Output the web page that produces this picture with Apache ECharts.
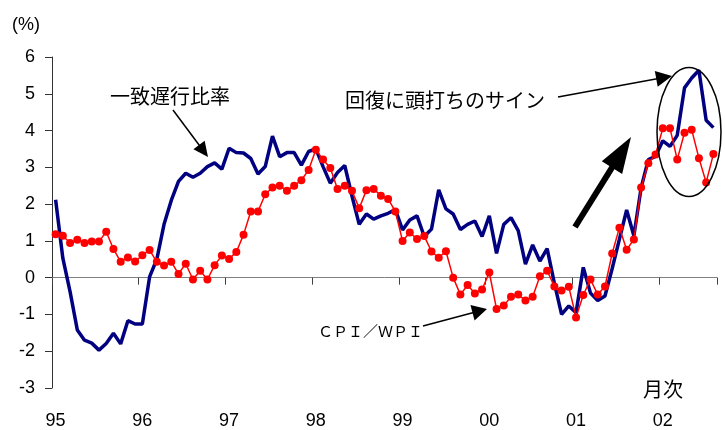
<!DOCTYPE html>
<html>
<head>
<meta charset="utf-8">
<script src="https://cdn.jsdelivr.net/npm/echarts@6/dist/echarts.min.js"></script>
<style>
  html, body { margin: 0; padding: 0; background: #fff; }
  #chart { width: 725px; height: 430px; }
</style>
</head>
<body>
<div id="chart"></div>
<script>
// 年ラベル（各年の1月に表示）
const years = ['95', '96', '97', '98', '99', '00', '01', '02'];
const monthCount = 92; // 95/1 - 02/8

// 一致遅行比率
const ratio = [
  2.12, 0.53, -0.38, -1.42, -1.7, -1.78, -1.97, -1.79, -1.51, -1.8,
  -1.17, -1.26, -1.26, 0.02, 0.5, 1.45, 2.1, 2.62, 2.84, 2.73,
  2.84, 3.02, 3.12, 2.95, 3.52, 3.4, 3.39, 3.24, 2.82, 3.02,
  3.85, 3.29, 3.4, 3.4, 3.06, 3.43, 3.5, 3.02, 2.57, 2.86,
  3.05, 2.22, 1.45, 1.73, 1.59, 1.68, 1.75, 1.85, 1.3, 1.57,
  1.68, 1.12, 1.32, 2.39, 1.87, 1.73, 1.31, 1.45, 1.54, 1.12,
  1.68, 0.66, 1.45, 1.63, 1.28, 0.37, 0.89, 0.45, 0.79, -0.15,
  -1.0, -0.77, -0.95, 0.28, -0.42, -0.62, -0.5, 0.25, 1.05, 1.84,
  1.14, 2.44, 3.21, 3.3, 3.72, 3.57, 3.87, 5.16, 5.43, 5.64,
  4.28, 4.08
];

// CPI/WPI
const cpiWpi = [
  1.18, 1.14, 0.94, 1.03, 0.94, 0.98, 0.98, 1.25, 0.78, 0.43,
  0.55, 0.44, 0.61, 0.75, 0.43, 0.33, 0.43, 0.10, 0.38, -0.05,
  0.19, -0.05, 0.34, 0.60, 0.51, 0.70, 1.17, 1.80, 1.80, 2.27,
  2.45, 2.50, 2.36, 2.50, 2.65, 2.93, 3.48, 3.21, 2.98, 2.41,
  2.50, 2.36, 1.89, 2.38, 2.41, 2.23, 2.14, 1.80, 1.00, 1.23,
  1.05, 1.13, 0.71, 0.54, 0.72, 0.00, -0.46, -0.20, -0.43, -0.32,
  0.14, -0.85, -0.76, -0.52, -0.46, -0.62, -0.52, 0.04, 0.19, -0.24,
  -0.35, -0.25, -1.08, -0.47, -0.05, -0.46, -0.24, 0.66, 1.36, 0.76,
  1.04, 2.45, 3.11, 3.35, 4.06, 4.06, 3.21, 3.94, 4.02, 3.25,
  2.59, 3.36
];

let months = [];
years.forEach(y => {
  for (let m = 1; m <= 12; m++) {
    if (months.length < monthCount) months.push(y + '/' + m);
  }
});

const jpFont = '"Noto Sans CJK JP", sans-serif';
const numFont = '"Liberation Sans", Arial, sans-serif';

// 矢印（線＋三角）
function arrow(x1, y1, x2, y2, headLen, headW, lineW) {
  let dx = x2 - x1, dy = y2 - y1;
  let len = Math.sqrt(dx * dx + dy * dy);
  let ux = dx / len, uy = dy / len;
  let bx = x2 - ux * headLen, by = y2 - uy * headLen;
  let px = -uy * headW, py = ux * headW;
  return [
    {
      type: 'line',
      shape: { x1: x1, y1: y1, x2: x2 - ux * headLen * 0.6, y2: y2 - uy * headLen * 0.6 },
      style: { stroke: '#000', lineWidth: lineW },
      z: 100
    },
    {
      type: 'polygon',
      shape: { points: [[x2, y2], [bx + px, by + py], [bx - px, by - py]] },
      style: { fill: '#000' },
      z: 100
    }
  ];
}

let chartDom = document.getElementById('chart');
let myChart = echarts.init(chartDom);
let option;

option = {
  animation: false,
  backgroundColor: '#fff',
  grid: { left: 52, right: 8, top: 57, bottom: 42 },
  xAxis: [
    {
      type: 'category',
      data: months,
      boundaryGap: true,
      axisLine: { onZero: true, lineStyle: { color: '#808080', width: 1 } },
      axisTick: { show: true, interval: 11, length: 7, lineStyle: { color: '#404040' } },
      axisLabel: { show: false },
      splitLine: { show: false }
    },
    {
      type: 'category',
      data: months,
      position: 'bottom',
      boundaryGap: true,
      axisLine: { show: false, onZero: false },
      axisTick: { show: false },
      axisLabel: {
        interval: 11,
        margin: 24,
        color: '#000',
        fontSize: 18,
        fontFamily: numFont,
        formatter: v => v.split('/')[0]
      },
      splitLine: { show: false }
    }
  ],
  yAxis: {
    type: 'value',
    min: -3,
    max: 6,
    interval: 1,
    axisLine: { show: true, onZero: false, lineStyle: { color: '#333', width: 1 } },
    axisTick: { show: true, length: 7, lineStyle: { color: '#333' } },
    axisLabel: { color: '#000', fontSize: 18, fontFamily: numFont, margin: 17 },
    splitLine: { show: false }
  },
  series: [
    {
      name: '一致遅行比率',
      type: 'line',
      xAxisIndex: 0,
      data: ratio,
      symbol: 'none',
      lineStyle: { color: '#000080', width: 3.5 },
      z: 2
    },
    {
      name: 'CPI/WPI',
      type: 'line',
      xAxisIndex: 0,
      data: cpiWpi,
      symbol: 'circle',
      symbolSize: 8,
      showSymbol: true,
      showAllSymbol: true,
      itemStyle: { color: '#ff0000' },
      lineStyle: { color: '#ff0000', width: 1.5 },
      z: 3
    }
  ],
  graphic: [
    {
      type: 'text', x: 12, y: 25,
      style: { text: '(%)', fill: '#000', fontSize: 18, fontFamily: numFont, textVerticalAlign: 'middle' }
    },
    {
      type: 'text', x: 110, y: 96,
      style: { text: '一致遅行比率', fill: '#000', fontSize: 20, fontFamily: jpFont, textVerticalAlign: 'middle' }
    },
    {
      type: 'text', x: 345, y: 100,
      style: { text: '回復に頭打ちのサイン', fill: '#000', fontSize: 20, fontFamily: jpFont, textVerticalAlign: 'middle' }
    },
    {
      type: 'text', x: 318, y: 331,
      style: { text: 'ＣＰＩ／ＷＰＩ', fill: '#000', fontSize: 15, fontFamily: jpFont, textVerticalAlign: 'middle' }
    },
    {
      type: 'text', x: 643, y: 389,
      style: { text: '月次', fill: '#000', fontSize: 20, fontFamily: jpFont, textVerticalAlign: 'middle' }
    },
    {
      type: 'ellipse',
      shape: { cx: 689, cy: 132, rx: 32, ry: 64.5 },
      style: { fill: 'none', stroke: '#000', lineWidth: 1.5 },
      z: 100
    },
    ...arrow(173, 110, 208, 157, 15, 7, 1.5),
    ...arrow(558, 97, 672, 76, 16, 8, 1.5),
    ...arrow(423, 326, 487, 309, 15, 8, 1.5),
    ...arrow(575, 227, 631, 137, 36, 12, 6)
  ]
};

option && myChart.setOption(option);
</script>
</body>
</html>
